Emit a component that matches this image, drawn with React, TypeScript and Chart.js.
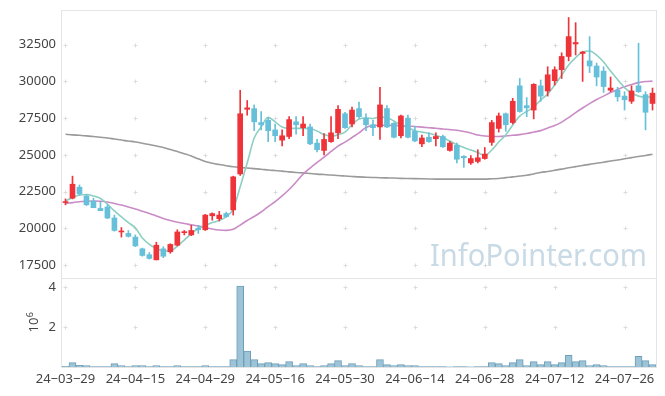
import React, { useEffect, useRef } from 'react';
import { Chart, registerables } from 'chart.js';

Chart.register(...registerables);

const dates = [
  '24-03-29',
  '24-04-01', '24-04-02', '24-04-03', '24-04-04', '24-04-05', '24-04-08', '24-04-09', '24-04-11', '24-04-12',
  '24-04-15', '24-04-16', '24-04-17', '24-04-18', '24-04-19', '24-04-22', '24-04-23', '24-04-24', '24-04-25', '24-04-26',
  '24-04-29', '24-04-30', '24-05-02', '24-05-03', '24-05-07', '24-05-08', '24-05-09', '24-05-10', '24-05-13', '24-05-14',
  '24-05-16', '24-05-17', '24-05-20', '24-05-21', '24-05-22', '24-05-23', '24-05-24', '24-05-27', '24-05-28', '24-05-29',
  '24-05-30', '24-05-31', '24-06-03', '24-06-04', '24-06-05', '24-06-07', '24-06-10', '24-06-11', '24-06-12', '24-06-13',
  '24-06-14', '24-06-17', '24-06-18', '24-06-19', '24-06-20', '24-06-21', '24-06-24', '24-06-25', '24-06-26', '24-06-27',
  '24-06-28', '24-07-01', '24-07-02', '24-07-03', '24-07-04', '24-07-05', '24-07-08', '24-07-09', '24-07-10', '24-07-11',
  '24-07-12', '24-07-15', '24-07-16', '24-07-17', '24-07-18', '24-07-19', '24-07-22', '24-07-23', '24-07-24', '24-07-25',
  '24-07-26', '24-07-29', '24-07-30', '24-07-31', '24-08-01',
];

const xTickLabels = ['24-03-29', '24-04-15', '24-04-29', '24-05-16', '24-05-30', '24-06-14', '24-06-28', '24-07-12', '24-07-26'];

const opens = [21750, 22050, 22800, 22200, 21850, 21350, 21450, 20700, 19750, 19650, 19400, 18600, 18200, 17850, 18600, 18400, 18850, 19700, 19550, 20000, 19900, 20850, 20650, 21000, 21250, 23700, 28100, 28150, 27200, 27350, 26700, 26000, 26250, 27250, 26850, 26900, 25800, 25300, 25900, 26500, 27800, 27100, 28150, 27500, 27050, 26900, 28150, 27150, 26300, 27500, 26600, 25750, 26200, 26100, 26250, 25300, 25650, 24900, 24450, 24550, 24750, 25850, 26800, 27800, 27200, 29700, 28350, 28050, 29700, 29350, 30050, 30800, 31700, 32550, 31900, 31400, 31050, 30700, 29400, 29400, 29000, 28650, 29700, 29100, 28500];
const highs = [22000, 23550, 22950, 22300, 22050, 21800, 21600, 20900, 20050, 19850, 19550, 18650, 18350, 19050, 18750, 18950, 19900, 19850, 20200, 20200, 20950, 21050, 21150, 21100, 23550, 29400, 28700, 28400, 27950, 27550, 27100, 26700, 27600, 27600, 27600, 27100, 26050, 26450, 27600, 28350, 27900, 28250, 28600, 27800, 27350, 29600, 28350, 27200, 27700, 27700, 26950, 26350, 26500, 26500, 26350, 25900, 25800, 24950, 24950, 25350, 25500, 27350, 27850, 27850, 28850, 30200, 28900, 29850, 30100, 31000, 31000, 31950, 34350, 34000, 32050, 33050, 31250, 31000, 30300, 29600, 29300, 29700, 32600, 29300, 29550];
const lows = [21600, 22000, 22250, 21550, 21400, 21200, 20650, 19800, 19400, 19400, 18750, 18100, 17900, 17850, 18000, 18300, 18800, 19550, 19500, 19650, 19850, 20550, 20500, 20750, 20900, 23600, 27700, 26650, 26700, 25900, 25900, 25600, 26100, 26400, 26300, 25700, 25200, 25000, 25850, 26100, 26800, 26900, 27500, 26650, 26300, 26050, 26850, 26150, 26150, 26150, 25900, 25550, 25850, 25600, 25500, 25250, 24450, 24150, 24350, 24450, 24700, 25650, 26550, 26600, 27100, 27900, 27600, 27450, 28650, 29000, 29750, 30200, 31400, 31800, 30000, 30600, 29700, 29250, 29300, 28650, 28050, 28500, 29250, 26700, 28050];
const closes = [21800, 23000, 22350, 21600, 21400, 21200, 20700, 19850, 19800, 19450, 18800, 18150, 17950, 18850, 18100, 18900, 19750, 19750, 19850, 19900, 20900, 21000, 20900, 20800, 23500, 27800, 28200, 27250, 27050, 26650, 26300, 26300, 27400, 27050, 27100, 25750, 25350, 26050, 26500, 28100, 26850, 28050, 27600, 27050, 26850, 28400, 26900, 26200, 27650, 26200, 25950, 26150, 25900, 26250, 25550, 25800, 24700, 24800, 24750, 24800, 25050, 27200, 27650, 27050, 28650, 27950, 28200, 29800, 29000, 30450, 30800, 31700, 33050, 32650, 32000, 31050, 30300, 29650, 29550, 28950, 28750, 29350, 29300, 27900, 29200];

const volumes = [30000, 220000, 85000, 70000, 20000, 20000, 20000, 170000, 70000, 20000, 70000, 70000, 20000, 70000, 20000, 20000, 70000, 20000, 20000, 20000, 70000, 20000, 20000, 20000, 370000, 4050000, 800000, 370000, 170000, 220000, 170000, 120000, 270000, 70000, 170000, 70000, 20000, 70000, 170000, 320000, 70000, 170000, 70000, 20000, 20000, 370000, 120000, 70000, 120000, 70000, 70000, 20000, 20000, 20000, 20000, 5000, 20000, 20000, 5000, 20000, 20000, 220000, 170000, 70000, 220000, 370000, 70000, 270000, 120000, 270000, 120000, 220000, 580000, 270000, 320000, 70000, 120000, 70000, 20000, 20000, 20000, 20000, 530000, 320000, 120000];

const ma5 = [21860, 22100, 22270, 22300, 22200, 22030, 21650, 21180, 20770, 20390, 20020, 19340, 18900, 18620, 18470, 18450, 18790, 19200, 19640, 19990, 20190, 20390, 20530, 20800, 21310, 22830, 24440, 26150, 26900, 27550, 27250, 26890, 26800, 26800, 26800, 26790, 26620, 26380, 26260, 26380, 26550, 27060, 27440, 27510, 27470, 27570, 27540, 27300, 27030, 26860, 26640, 26550, 26470, 26330, 26180, 25940, 25690, 25500, 25330, 25160, 24950, 25330, 25870, 26350, 27030, 27640, 27950, 28260, 28730, 29140, 29750, 30430, 31110, 31620, 32000, 32070, 31790, 31320, 30710, 30130, 29580, 29210, 29000, 28940, 28940];
const ma20 = [21690, 21750, 21810, 21840, 21860, 21840, 21790, 21690, 21580, 21450, 21310, 21160, 21010, 20840, 20670, 20530, 20410, 20330, 20240, 20160, 20050, 19950, 19880, 19860, 19930, 20220, 20530, 20800, 21110, 21480, 21810, 22200, 22640, 23150, 23690, 24100, 24480, 24850, 25230, 25600, 25870, 26180, 26490, 26860, 27000, 27020, 27020, 27000, 26980, 26960, 26930, 26890, 26850, 26810, 26760, 26720, 26670, 26590, 26490, 26350, 26280, 26250, 26250, 26280, 26330, 26380, 26450, 26550, 26650, 26830, 27000, 27230, 27540, 27880, 28190, 28490, 28770, 29000, 29240, 29450, 29640, 29790, 29920, 29990, 30020];
const ma120 = [26400, 26360, 26330, 26290, 26250, 26200, 26150, 26080, 26010, 25940, 25880, 25790, 25700, 25600, 25500, 25360, 25230, 25080, 24920, 24730, 24550, 24430, 24340, 24260, 24190, 24140, 24100, 24060, 24020, 23970, 23930, 23890, 23840, 23800, 23770, 23730, 23690, 23660, 23630, 23590, 23560, 23530, 23500, 23480, 23460, 23440, 23430, 23420, 23400, 23390, 23380, 23370, 23360, 23350, 23350, 23350, 23350, 23350, 23350, 23350, 23350, 23370, 23390, 23450, 23500, 23560, 23610, 23700, 23800, 23870, 23950, 24030, 24120, 24200, 24280, 24350, 24430, 24500, 24580, 24650, 24730, 24810, 24890, 24960, 25040];

const priceTicks = [17500, 20000, 22500, 25000, 27500, 30000, 32500];
const volumeTicks = [2000000, 4000000];
const volumeTickLabels = ['2', '4'];
const volumeScaleBase = '10';
const volumeScaleExp = '6';
const watermarkText = 'InfoPointer.com';

const UP = '#ee3339';
const DOWN = '#67c0d9';
const FONT = '"Noto Sans", "Open Sans", sans-serif';
const TICK_COLOR = '#444444';

export default function App() {
  const ref = useRef<HTMLCanvasElement | null>(null);

  useEffect(() => {
    const canvas = ref.current;
    if (!canvas) return;
    const colors = opens.map((o, i) => (closes[i] >= o ? UP : DOWN));

    const decor = {
      id: 'decor',
      beforeDatasetsDraw(chart: any) {
        const { ctx, chartArea, scales } = chart;
        const x = scales.x, y = scales.y, yv = scales.yv;
        ctx.save();
        // watermark
        ctx.font = `31px ${FONT}`;
        ctx.fillStyle = '#c8dae5';
        ctx.textAlign = 'right';
        ctx.textBaseline = 'alphabetic';
        ctx.fillText(watermarkText, chartArea.right - 9, y.bottom - 12, 217);
        // borders
        ctx.strokeStyle = '#e4e4e4';
        ctx.lineWidth = 1;
        ctx.strokeRect(Math.round(chartArea.left) - 0.5, Math.round(chartArea.top) + 0.5,
          Math.round(chartArea.right - chartArea.left) + 1, Math.round(chartArea.bottom - chartArea.top));
        ctx.beginPath();
        ctx.moveTo(chartArea.left, Math.round(yv.top) + 0.5);
        ctx.lineTo(chartArea.right, Math.round(yv.top) + 0.5);
        ctx.stroke();
        // grid crosses
        ctx.strokeStyle = '#dcdcdc';
        const xs = xTickLabels.map((d) => x.getPixelForValue(dates.indexOf(d)));
        const ys = [
          ...priceTicks.map((v) => y.getPixelForValue(v)),
          ...volumeTicks.map((v) => yv.getPixelForValue(v)),
        ];
        ctx.beginPath();
        for (const px of xs) {
          for (const py of ys) {
            const cx = Math.round(px) + 0.5;
            const cy = Math.round(py) + 0.5;
            ctx.moveTo(cx - 2, cy);
            ctx.lineTo(cx + 2, cy);
            ctx.moveTo(cx, cy - 2);
            ctx.lineTo(cx, cy + 2);
          }
        }
        ctx.stroke();
        ctx.restore();
      },
      afterDraw(chart: any) {
        const { ctx, chartArea, scales } = chart;
        const y = scales.y, yv = scales.yv;
        ctx.save();
        // y tick labels
        ctx.fillStyle = TICK_COLOR;
        ctx.font = `13px ${FONT}`;
        ctx.textAlign = 'right';
        ctx.textBaseline = 'middle';
        const lx = chartArea.left - 6;
        priceTicks.forEach((v) => ctx.fillText(String(v), lx, y.getPixelForValue(v)));
        volumeTicks.forEach((v, i) => ctx.fillText(volumeTickLabels[i], lx, yv.getPixelForValue(v)));
        // volume axis title 10^6
        const mid = (yv.top + yv.bottom) / 2;
        ctx.translate(38, mid);
        ctx.rotate(-Math.PI / 2);
        ctx.textBaseline = 'alphabetic';
        ctx.textAlign = 'left';
        ctx.font = `13px ${FONT}`;
        const w1 = ctx.measureText(volumeScaleBase).width;
        ctx.font = `9px ${FONT}`;
        const w2 = ctx.measureText(volumeScaleExp).width;
        const start = -(w1 + w2) / 2;
        ctx.font = `13px ${FONT}`;
        ctx.fillText(volumeScaleBase, start, 0);
        ctx.font = `9px ${FONT}`;
        ctx.fillText(volumeScaleExp, start + w1 + 0.5, -5);
        ctx.restore();
      },
    };

    const chart = new Chart(canvas, {
      type: 'bar',
      data: {
        labels: dates,
        datasets: [
          {
            type: 'bar',
            label: 'body',
            data: opens.map((o, i) => [o, closes[i]]) as any,
            yAxisID: 'y',
            backgroundColor: colors,
            barThickness: 5,
            minBarLength: 1,
            grouped: false,
            order: 0,
          },
          {
            type: 'bar',
            label: 'wick',
            data: lows.map((l, i) => [l, highs[i]]) as any,
            yAxisID: 'y',
            backgroundColor: colors,
            barThickness: 1,
            grouped: false,
            order: 1,
          },
          {
            type: 'line',
            label: 'MA5',
            data: ma5,
            yAxisID: 'y',
            borderColor: '#8ccfc3',
            borderWidth: 1.6,
            pointRadius: 0,
            cubicInterpolationMode: 'monotone',
            order: 2,
          },
          {
            type: 'line',
            label: 'MA20',
            data: ma20,
            yAxisID: 'y',
            borderColor: '#c98cc6',
            borderWidth: 1.6,
            pointRadius: 0,
            cubicInterpolationMode: 'monotone',
            order: 3,
          },
          {
            type: 'line',
            label: 'MA120',
            data: ma120,
            yAxisID: 'y',
            borderColor: '#9a9a9a',
            borderWidth: 1.6,
            pointRadius: 0,
            cubicInterpolationMode: 'monotone',
            order: 4,
          },
          {
            type: 'bar',
            label: 'volume',
            data: volumes,
            yAxisID: 'yv',
            backgroundColor: '#9cc3d6',
            borderColor: '#6e9fba',
            borderWidth: 1,
            barPercentage: 1,
            categoryPercentage: 1,
            grouped: false,
            order: 5,
          },
        ] as any,
      },
      options: {
        animation: false,
        responsive: false,
        devicePixelRatio: 1,
        events: [],
        layout: { padding: { top: 10, right: 9, left: 0, bottom: 0 } },
        plugins: { legend: { display: false }, tooltip: { enabled: false } },
        scales: {
          x: {
            type: 'category',
            offset: true,
            grid: { display: false, drawTicks: false },
            border: { display: false },
            ticks: {
              autoSkip: false,
              maxRotation: 0,
              minRotation: 0,
              padding: 4,
              color: TICK_COLOR,
              font: { family: FONT, size: 13 },
              callback: (_v: any, index: number) => {
                const d = dates[index];
                return xTickLabels.includes(d) ? d.replace(/-/g, '\u2212') : null;
              },
            },
            afterFit: (s: any) => { s.height = 29; },
          },
          y: {
            type: 'linear',
            position: 'left',
            stack: 'main',
            stackWeight: 268,
            weight: 2,
            min: 16615,
            max: 34863,
            grid: { display: false, drawTicks: false },
            border: { display: false },
            ticks: { display: false },
            afterFit: (s: any) => { s.width = 62; },
          },
          yv: {
            type: 'linear',
            position: 'left',
            stack: 'main',
            stackWeight: 89,
            weight: 1,
            min: 0,
            max: 4450000,
            grid: { display: false, drawTicks: false },
            border: { display: false },
            ticks: { display: false },
            afterFit: (s: any) => { s.width = 62; },
          },
        },
      } as any,
      plugins: [decor],
    });

    return () => chart.destroy();
  }, []);

  return (
    <div style={{ position: 'fixed', left: 0, top: 0, width: 665, height: 396, background: '#ffffff' }}>
      <canvas ref={ref} width={665} height={396} style={{ display: 'block' }} />
    </div>
  );
}
